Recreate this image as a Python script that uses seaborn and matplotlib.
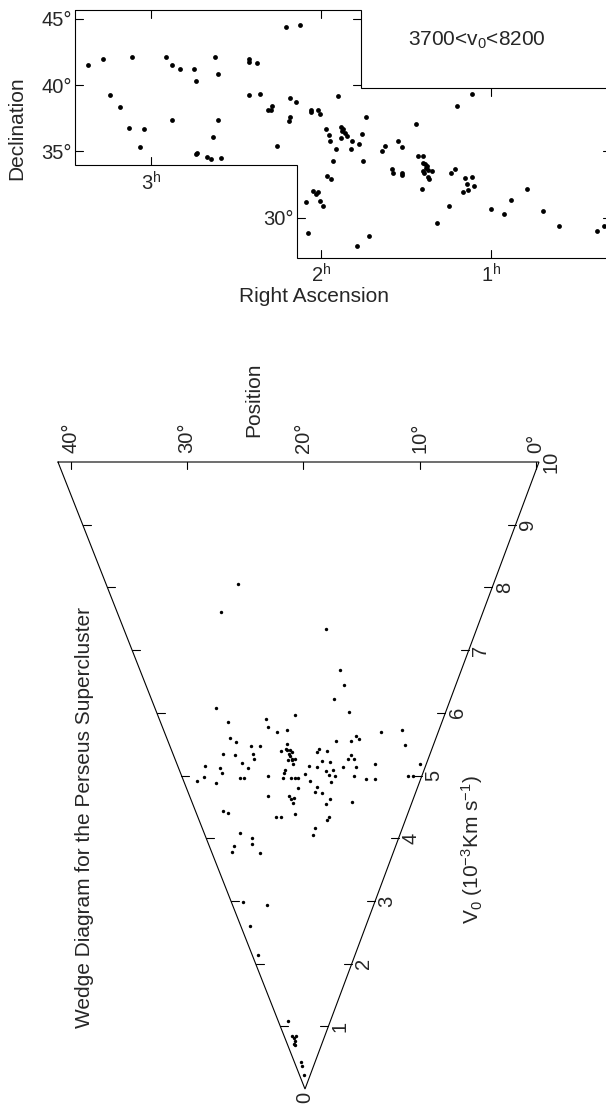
import numpy as np
import matplotlib
matplotlib.use("Agg")
import matplotlib.pyplot as plt
import seaborn as sns

sns.set_style("white")
plt.rcParams["font.family"] = ["Liberation Sans", "DejaVu Sans"]
plt.rcParams["mathtext.fontset"] = "custom"
plt.rcParams["mathtext.rm"] = "Liberation Sans"
plt.rcParams["mathtext.it"] = "Liberation Sans:italic"
plt.rcParams["mathtext.bf"] = "Liberation Sans:bold"
plt.rcParams["mathtext.default"] = "regular"

# ---------------------------------------------------------------------------
# Sky positions of galaxies with 3700 < v0 < 8200 km/s
# ---------------------------------------------------------------------------
ra_hours = [3.366, 3.282, 3.108, 2.910, 2.873, 2.830, 2.746, 2.621, 2.607, 2.732,
            2.421, 2.421, 2.378, 3.237, 3.179, 2.421, 2.360, 2.873, 2.607, 3.127,
            3.038, 2.632, 3.063, 2.734, 2.726, 2.671, 2.646, 2.589, 2.204, 2.122,
            2.184, 2.147, 2.313, 2.286, 2.291, 2.190, 2.180, 2.260, 2.059, 2.059,
            2.019, 2.004, 1.902, 1.736, 1.972, 1.953, 1.947, 1.914, 1.928, 1.885,
            1.871, 1.877, 1.859, 1.847, 1.884, 1.818, 1.824, 1.761, 1.775, 1.755,
            1.967, 1.941, 2.045, 2.029, 2.016, 2.090, 2.004, 1.986, 2.078, 1.787,
            1.718, 1.640, 1.624, 1.546, 1.523, 1.444, 1.583, 1.579, 1.523, 1.526,
            1.429, 1.403, 1.399, 1.391, 1.379, 1.385, 1.370, 1.350, 1.403, 1.397,
            1.370, 1.364, 1.407, 1.248, 1.319, 1.235, 1.211, 1.203, 1.113, 1.153,
            1.141, 1.113, 1.100, 1.135, 1.168, 1.002, 0.927, 0.886, 0.792, 0.695,
            0.604, 0.379, 0.336]
dec_deg = [41.48, 41.94, 42.13, 42.13, 41.53, 41.21, 41.21, 42.13, 40.83, 40.28,
           41.98, 41.76, 41.64, 39.27, 38.36, 39.27, 39.32, 37.36, 37.36, 36.74,
           36.66, 36.06, 35.33, 34.78, 34.90, 34.57, 34.42, 34.50, 44.35, 44.50,
           39.02, 38.72, 38.12, 38.42, 38.12, 37.29, 37.57, 35.38, 38.12, 37.99,
           38.14, 37.81, 39.17, 37.57, 36.68, 36.23, 35.76, 35.18, 34.30, 36.80,
           36.72, 36.50, 36.35, 36.19, 36.03, 35.76, 35.20, 36.31, 35.58, 34.25,
           33.14, 32.92, 32.03, 31.81, 31.91, 31.16, 31.28, 30.86, 28.87, 27.89,
           28.60, 35.05, 35.38, 35.76, 35.33, 37.04, 33.67, 33.39, 33.39, 33.22,
           34.65, 34.65, 34.14, 34.02, 33.92, 33.77, 33.57, 33.52, 33.52, 33.37,
           33.09, 32.92, 32.14, 30.86, 29.58, 33.37, 33.69, 38.42, 39.32, 32.97,
           32.54, 33.07, 32.37, 32.11, 31.96, 30.63, 30.30, 31.31, 32.19, 30.53,
           29.40, 29.00, 29.40]

# Survey field outline (RA in hours, Dec in degrees)
field_ra = [3.4445, 1.765, 1.765, 0.30, 0.30, 2.143, 2.143, 3.4445, 3.4445]
field_dec = [45.69, 45.69, 39.77, 39.77, 27.0, 27.0, 33.97, 33.97, 45.69]

ra_ticks = [3, 2, 1]
ra_tick_labels = ["3$^{h}$", "2$^{h}$", "1$^{h}$"]
dec_ticks = [45, 40, 35, 30]
dec_tick_labels = ["45°", "40°", "35°", "30°"]

# ---------------------------------------------------------------------------
# Wedge diagram: position angle (deg) and velocity (10^3 km/s)
# ---------------------------------------------------------------------------
position_deg = [27.0, 29.4, 17.4, 32.4, 31.2, 31.4, 25.5, 25.3, 24.1, 22.6,
                21.3, 30.6, 28.3, 27.0, 33.1, 31.2, 28.2, 28.1, 30.3, 36.6,
                34.2, 29.4, 34.0, 37.4, 38.7, 35.5, 31.2, 30.4, 26.3, 23.7,
                22.9, 22.7, 22.2, 22.0, 22.4, 22.2, 21.9, 21.5, 22.6, 22.0,
                21.8, 22.6, 23.2, 23.5, 23.6, 22.2, 21.6, 21.0, 19.9, 19.1,
                19.0, 21.1, 26.7, 22.8, 22.5, 21.9, 22.1, 21.9, 25.5, 24.6,
                35.8, 34.9, 33.5, 31.2, 31.5, 35.6, 36.5, 30.2, 15.4, 14.7,
                15.9, 13.5, 8.4, 5.3, 4.1, 12.1, 11.6, 15.1, 12.7, 17.6,
                17.9, 16.3, 12.4, 12.9, 11.9, 17.1, 15.8, 17.8, 13.4, 11.4,
                8.3, 16.3, 15.1, 15.7, 14.7, 11.4, 9.3, 7.6, 0.8, 2.1,
                1.2, 15.2, 17.7, 18.1, 16.7, 15.3, 11.1, 15.9, 15.0, 15.4,
                17.7, 18.1, 37.8, 31.1, 38.1, 38.7, 33.1, 33.4, 31.3, 28.8,
                31.4, 33.3, 31.7, 27.8, 26.9, 22.6]
velocity = [8.06, 7.60, 7.34, 6.08, 5.85, 5.60, 5.90, 5.78, 5.70, 5.72,
            5.96, 5.53, 5.47, 5.47, 5.35, 5.32, 5.35, 5.27, 5.20, 5.15,
            5.12, 5.12, 5.04, 4.97, 4.91, 4.88, 4.96, 4.96, 4.99, 5.39,
            5.43, 5.40, 5.41, 5.37, 5.34, 5.31, 5.27, 5.27, 5.24, 5.24,
            5.18, 5.50, 5.09, 5.04, 4.96, 4.96, 4.96, 4.96, 5.02, 5.15,
            4.91, 4.80, 4.67, 4.68, 4.62, 4.64, 4.56, 4.38, 4.34, 4.34,
            4.43, 4.40, 4.09, 4.01, 3.90, 3.88, 3.78, 3.76, 6.69, 6.45,
            6.22, 6.02, 5.70, 5.73, 5.48, 5.63, 5.58, 5.55, 5.55, 5.42,
            5.37, 5.39, 5.33, 5.26, 5.27, 5.23, 5.22, 5.13, 5.13, 5.14,
            5.19, 5.07, 5.08, 5.01, 4.99, 4.99, 4.94, 4.94, 5.18, 4.99,
            4.99, 4.90, 4.81, 4.74, 4.72, 4.63, 4.57, 4.54, 4.34, 4.29,
            4.16, 4.05, 2.99, 2.93, 2.60, 2.13, 1.08, 0.85, 0.82, 0.84,
            0.77, 0.72, 0.70, 0.43, 0.37, 0.22]

pos_ticks = [40, 30, 20, 10, 0]
pos_tick_labels = ["40°", "30°", "20°", "10°", "0°"]
vel_ticks = list(range(0, 11))
wedge_edges = (41.09, -0.27)      # position angles bounding the wedge
v_max = 10

# ---------------------------------------------------------------------------
W, H = 606, 1104
fig = plt.figure(figsize=(W / 100, H / 100), dpi=100)


def box(x0, y0, x1, y1):
    """Pixel box (top-left origin) -> figure-fraction rectangle."""
    return [x0 / W, 1 - y1 / H, (x1 - x0) / W, (y1 - y0) / H]


def fig_text(px, py, s, **kw):
    fig.text(px / W, 1 - py / H, s, **kw)


LW = 0.8
TICK_FS = 14.5
LABEL_FS = 15

# ---------------- upper panel: sky map ----------------
ra_lim = (3.4445, 0.3265)
dec_lim = (27.0, 45.69)
ax = fig.add_axes(box(75, 9.5, 606, 257.5))
ax.set_xlim(*ra_lim)
ax.set_ylim(*dec_lim)
ax.set_axis_off()

sns.scatterplot(x=ra_hours, y=dec_deg, ax=ax, color="black", s=12,
                linewidth=0, legend=False)
ax.plot(field_ra, field_dec, color="black", lw=LW, clip_on=False,
        solid_joinstyle="miter")

hr_px = (ra_lim[0] - ra_lim[1]) / 531.0
deg_px = (dec_lim[1] - dec_lim[0]) / 248.0
tl = 8


def top_edge(r):
    return 45.69 if r > 1.765 else 39.77


def bottom_edge(r):
    return 33.97 if r > 2.143 else 27.0


def left_edge(d):
    return 3.4445 if d > 33.97 else 2.143


def right_edge(d):
    return 1.765 if d > 39.77 else 0.30


kw = dict(color="black", lw=LW, clip_on=False)
for r, lab in zip(ra_ticks, ra_tick_labels):
    t, b = top_edge(r), bottom_edge(r)
    ax.plot([r, r], [t, t - tl * deg_px], **kw)
    ax.plot([r, r], [b, b + tl * deg_px], **kw)
    ax.text(r, b - 6 * deg_px, lab, ha="center", va="top", fontsize=TICK_FS,
            clip_on=False)
for d, lab in zip(dec_ticks, dec_tick_labels):
    le, re = left_edge(d), right_edge(d)
    ax.plot([le, le - tl * hr_px], [d, d], **kw)
    ax.plot([re, re + tl * hr_px], [d, d], **kw)
    ax.text(le + 3 * hr_px, d - 2 * deg_px, lab, ha="right", va="center",
            fontsize=TICK_FS, clip_on=False)

fig_text(17, 128, "Declination", rotation=90, ha="center", va="center",
         fontsize=LABEL_FS)
fig_text(314, 296, "Right Ascension", ha="center", va="center",
         fontsize=LABEL_FS)
fig_text(477, 40, "3700<v$_{0}$<8200", ha="center", va="center",
         fontsize=LABEL_FS)

# ---------------- lower panel: wedge diagram ----------------
unit = 62.7                      # pixels per 10^3 km/s
apex = (305, 1089)
ax2 = fig.add_axes(box(0, 430, 606, 1104))
ax2.set_xlim((0 - apex[0]) / unit, (W - apex[0]) / unit)
ax2.set_ylim((apex[1] - H) / unit, (apex[1] - 430) / unit)
ax2.set_axis_off()

SPREAD = 0.018549
MID = 19.85


def lateral(theta, v):
    """Sideways offset of a galaxy in the wedge, velocity units."""
    return -SPREAD * np.asarray(v, float) * (np.asarray(theta, float) - MID)


hi, lo = wedge_edges
outline_u = [lateral(hi, v_max), 0.0, lateral(lo, v_max), lateral(hi, v_max)]
outline_v = [v_max, 0.0, v_max, v_max]
ax2.plot(outline_u, outline_v, color="black", lw=LW, clip_on=False,
         solid_joinstyle="miter")

sns.scatterplot(x=lateral(position_deg, velocity), y=velocity, ax=ax2,
                color="black", s=6, linewidth=0, legend=False)

t2 = 8 / unit
for v in vel_ticks[1:-1]:
    ul = float(lateral(hi, v))
    ur = float(lateral(lo, v))
    ax2.plot([ul, ul + t2], [v, v], **kw)
    ax2.plot([ur - t2, ur], [v, v], **kw)
for v in vel_ticks[1:]:
    ur = float(lateral(lo, v))
    ax2.text(ur + 12 / unit, v, str(v), rotation=90, ha="center",
             va="center", fontsize=TICK_FS)
ax2.text(0, -8 / unit, str(vel_ticks[0]), rotation=90, ha="center",
         va="center", fontsize=TICK_FS, clip_on=False)

for p, lab in zip(pos_ticks, pos_tick_labels):
    u = float(lateral(p, v_max))
    ax2.plot([u, u], [v_max, v_max - 7 / unit], **kw)
    ax2.text(u, v_max + 9 / unit, lab, rotation=90, ha="center",
             va="bottom", fontsize=TICK_FS)

fig_text(254, 400, "Position", rotation=90, ha="center", va="center",
         fontsize=LABEL_FS)
fig_text(85, 817, "Wedge Diagram for the Perseus Supercluster", rotation=90,
         ha="center", va="center", fontsize=LABEL_FS)
fig_text(472, 850, "V$_{0}$ (10$^{-3}$Km s$^{-1}$)", rotation=90,
         ha="center", va="center", fontsize=LABEL_FS)

fig.savefig("out.png", dpi=100, facecolor="white")
